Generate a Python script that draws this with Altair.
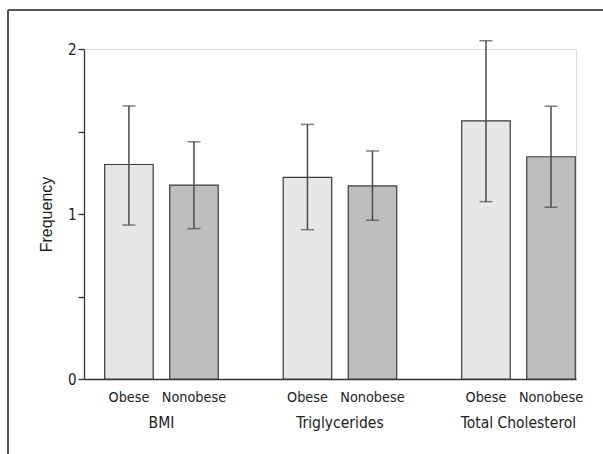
import altair as alt
import pandas as pd

groups = ["BMI", "Triglycerides", "Total Cholesterol"]
statuses = ["Obese", "Nonobese"]
means = [1.30, 1.175, 1.222, 1.170, 1.564, 1.347]
lows = [0.933, 0.911, 0.905, 0.962, 1.075, 1.041]
highs = [1.655, 1.438, 1.543, 1.382, 2.05, 1.653]

rows = []
i = 0
for g in groups:
    for s in statuses:
        rows.append({"group": g, "status": s, "mean": means[i], "low": lows[i], "high": highs[i]})
        i += 1
df = pd.DataFrame(rows)
gdf = pd.DataFrame({"group": groups})

NARROW = "DejaVu Sans Condensed, sans-serif"
W, H = 492, 330

xscale = alt.Scale(domain=groups, paddingInner=0.364, paddingOuter=0.06, align=0.965)
xoff = alt.Scale(domain=statuses, paddingInner=0.254, paddingOuter=0)
x = alt.X("group:N", scale=xscale, axis=alt.Axis(labels=False, ticks=False, title=None,
                                                 domainColor="#333", domainWidth=1.3))
xo = alt.XOffset("status:N", scale=xoff)
yscale = alt.Scale(domain=[0, 2], nice=False)

base = alt.Chart(df)

bars = base.mark_bar(stroke="#3a3a3a", strokeWidth=1.2).encode(
    x=x, xOffset=xo,
    y=alt.Y("mean:Q", scale=yscale,
            axis=alt.Axis(values=[0, 0.5, 1, 1.5, 2],
                          labelExpr="datum.value % 1 == 0 ? format(datum.value, 'd') : ''",
                          title="Frequency", titleFont="Liberation Sans", titleFontSize=16,
                          titleFontWeight="normal", titleColor="#222", titlePadding=13,
                          labelFont=NARROW, labelFontSize=15, labelColor="#222", labelPadding=2,
                          tickSize=6, tickColor="#333", tickWidth=1.3,
                          domainColor="#333", domainWidth=1.3, grid=False)),
    color=alt.Color("status:N", scale=alt.Scale(domain=statuses, range=["#e6e7e8", "#bdbec0"]),
                    legend=None),
)

err = base.mark_rule(color="#4a4a4a", strokeWidth=1.5).encode(
    x=x, xOffset=xo, y=alt.Y("low:Q", scale=yscale), y2="high:Q")
cap_hi = base.mark_tick(color="#4a4a4a", thickness=1.5, size=13, orient="horizontal").encode(
    x=x, xOffset=xo, y=alt.Y("high:Q", scale=yscale))
cap_lo = base.mark_tick(color="#4a4a4a", thickness=1.5, size=13, orient="horizontal").encode(
    x=x, xOffset=xo, y=alt.Y("low:Q", scale=yscale))

status_lbl = base.mark_text(font=NARROW, fontSize=14.3, color="#222", baseline="middle").encode(
    x=x, xOffset=xo, y=alt.value(H + 19), text="status:N")
group_lbl = alt.Chart(gdf).mark_text(font=NARROW, fontSize=15.5, color="#222", baseline="middle").encode(
    x=x, y=alt.value(H + 44), text="group:N")

frame_top = alt.Chart(gdf).mark_rule(color="#555", strokeWidth=2).encode(
    x=alt.value(-76), x2=alt.value(W + 40), y=alt.value(-39))
frame_left = alt.Chart(gdf).mark_rule(color="#555", strokeWidth=2).encode(
    x=alt.value(-76), y=alt.value(-39), y2=alt.value(H + 90))

chart = alt.layer(bars, err, cap_hi, cap_lo, status_lbl, group_lbl, frame_top, frame_left).properties(
    width=W, height=H,
    autosize=alt.AutoSizeParams(type="none"),
    padding={"left": 84, "top": 49, "right": 27, "bottom": 75},
).configure_view(stroke=None).configure(background="white")

chart.save("out.html", embed_options={"renderer": "svg", "actions": False})
